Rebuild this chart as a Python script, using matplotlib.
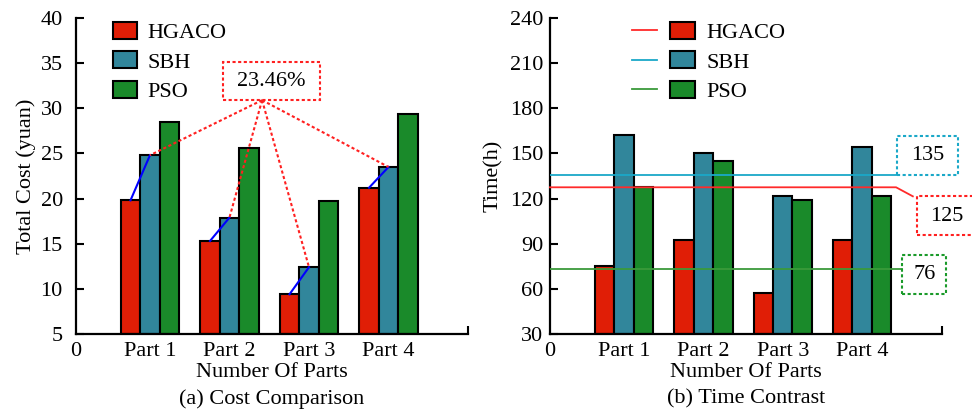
import numpy as np
import matplotlib.pyplot as plt
from matplotlib.patches import Patch, Rectangle
from matplotlib.lines import Line2D
from matplotlib.legend_handler import HandlerTuple

plt.rcParams['font.family'] = ['Liberation Serif', 'DejaVu Serif']

parts = ["Part 1", "Part 2", "Part 3", "Part 4"]
methods = ["HGACO", "SBH", "PSO"]

cost_hgaco = [19.8, 15.3, 9.4, 21.2]
cost_sbh = [24.8, 17.9, 12.4, 23.5]
cost_pso = [28.5, 25.6, 19.7, 29.4]

time_hgaco = [75, 92.5, 57, 92.5]
time_sbh = [162.5, 150.3, 122, 154]
time_pso = [127.5, 145, 118.8, 121.5]

# average lines drawn in panel (b) and the numbers written next to them
avg_levels = [127.5, 136, 73]
avg_labels = ["125", "135", "76"]
cost_gain = "23.46%"

bar_colors = ["#e01e06", "#31869b", "#1a8a2a"]
line_colors = ["#ff2a2a", "#1aa8c8", "#3a9a3a"]

FS = 16
x = np.arange(1, 5)
w = 0.245

fig = plt.figure(figsize=(9.72, 4.12), dpi=100)
ax1 = fig.add_axes([0.0782, 0.1893, 0.4033, 0.767])
ax2 = fig.add_axes([0.5658, 0.1893, 0.403, 0.767])


def style_axes(ax, ylim, yticks, ypad):
    ax.set_xlim(0.07, 5.0)
    ax.set_ylim(*ylim)
    ax.set_yticks(yticks)
    ax.set_xticks([0.07, 1, 2, 3, 4])
    ax.set_xticklabels(["0"] + parts, fontsize=FS)
    ax.set_xticks([5.0], minor=True)
    ax.tick_params(axis='x', which='major', length=0, pad=6)
    ax.tick_params(axis='x', which='minor', direction='in', length=6, width=1.5)
    ax.tick_params(axis='y', direction='in', length=6, width=1.5, labelsize=16, pad=ypad)
    for s in ['top', 'right']:
        ax.spines[s].set_visible(False)
    for s in ['left', 'bottom']:
        ax.spines[s].set_linewidth(1.6)
    ax.set_xlabel("Number Of Parts", fontsize=FS, labelpad=1)


def draw_bars(ax, series, bottom):
    for i, vals in enumerate(series):
        ax.bar(x + (i - 1) * w, np.array(vals) - bottom, w, bottom=bottom,
               color=bar_colors[i], edgecolor='black', linewidth=1.5, zorder=2)


# (a) cost
draw_bars(ax1, [cost_hgaco, cost_sbh, cost_pso], 5)
style_axes(ax1, (5, 40), np.arange(5, 41, 5), 9.5)
ax1.set_ylabel("Total Cost (yuan)", fontsize=FS, labelpad=3)
for i in range(4):
    ax1.plot([x[i] - w, x[i]], [cost_hgaco[i], cost_sbh[i]], color='blue', lw=1.5, zorder=3)
box_x0, box_x1, box_y0, box_y1 = 1.92, 3.14, 30.9, 35.1
ax1.add_patch(Rectangle((box_x0, box_y0), box_x1 - box_x0, box_y1 - box_y0,
                        fill=False, edgecolor='#ff2020', lw=1.5, ls=(0, (1.5, 1.2)), zorder=4))
ax1.text((box_x0 + box_x1) / 2, (box_y0 + box_y1) / 2, cost_gain, fontsize=FS,
         ha='center', va='center')
tip_x = 2.41
for i in range(4):
    ax1.plot([tip_x, x[i]], [box_y0, cost_sbh[i]], color='#ff2020', lw=1.5,
             ls=(0, (1.5, 1.2)), zorder=4)
h1 = [Patch(facecolor=c, edgecolor='black', lw=1.5) for c in bar_colors]
ax1.legend(h1, methods, loc='upper left', bbox_to_anchor=(0.094, 0.988), frameon=False,
           fontsize=FS, borderpad=0, borderaxespad=0, handlelength=1.07,
           handleheight=0.8, handletextpad=0.5, labelspacing=0.38)
fig.text(0.0782 + 0.4033 / 2, 0.02, "(a) Cost Comparison", fontsize=FS, ha='center')

# (b) time
draw_bars(ax2, [time_hgaco, time_sbh, time_pso], 30)
style_axes(ax2, (30, 240), np.arange(30, 241, 30), 5)
ax2.set_ylabel("Time(h)", fontsize=FS, labelpad=5)

# red line bends down into its box
ax2.plot([0.07, 4.426, 4.637], [avg_levels[0], avg_levels[0], 121.5], color=line_colors[0],
         lw=1.3, zorder=3, clip_on=False)
ax2.plot([0.07, 4.443], [avg_levels[1], avg_levels[1]], color=line_colors[1], lw=1.3, zorder=3)
ax2.plot([0.07, 4.498], [avg_levels[2], avg_levels[2]], color=line_colors[2], lw=1.3, zorder=3)

boxes = [
    (4.687, 5.6, 96, 121.5, "#ff2020", 5.07, 108),
    (4.443, 5.2, 135.9, 161.3, "#1aa8c8", 4.82, 148.5),
    (4.498, 5.057, 56.6, 82.3, "#1a9a2a", 4.78, 69.5),
]
for (bx0, bx1, by0, by1, ec, tx, ty), lab in zip(boxes, avg_labels):
    ax2.add_patch(Rectangle((bx0, by0), bx1 - bx0, by1 - by0, fill=False, edgecolor=ec,
                            lw=1.5, ls=(0, (1.5, 1.2)), clip_on=False, zorder=4))
    ax2.text(tx, ty, lab, fontsize=FS, ha='center', va='center', clip_on=False)

h2 = [(Line2D([], [], color=line_colors[i], lw=1.3),
       Patch(facecolor=bar_colors[i], edgecolor='black', lw=1.5)) for i in range(3)]
ax2.legend(h2, methods, loc='upper left', bbox_to_anchor=(0.2086, 0.988), frameon=False,
           fontsize=FS, borderpad=0, borderaxespad=0, handlelength=2.85,
           handleheight=0.8, handletextpad=0.5, labelspacing=0.38,
           handler_map={tuple: HandlerTuple(ndivide=None, pad=0.6)})
fig.text(0.5658 + 0.403 / 2, 0.02, "(b) Time Contrast", fontsize=FS, ha='center')

fig.savefig("out.png", dpi=100)
